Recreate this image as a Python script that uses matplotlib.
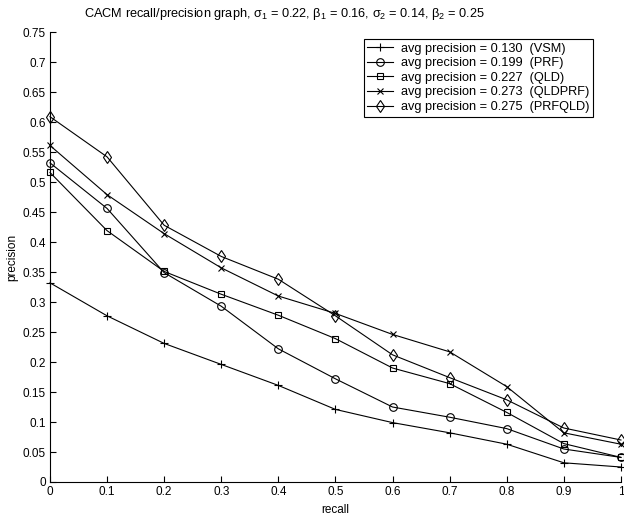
import matplotlib
matplotlib.use("Agg")
import matplotlib.pyplot as plt
from matplotlib.ticker import FuncFormatter

plt.rcParams['font.family'] = ['Liberation Sans', 'DejaVu Sans']
plt.rcParams['mathtext.fontset'] = 'custom'
plt.rcParams['mathtext.rm'] = 'Liberation Sans'
plt.rcParams['mathtext.it'] = 'Liberation Sans'

# recall levels
recall = [0.0, 0.1, 0.2, 0.3, 0.4, 0.5, 0.6, 0.7, 0.8, 0.9, 1.0]

# precision values per method
vsm = [0.332, 0.277, 0.231, 0.196, 0.161, 0.121, 0.099, 0.082, 0.063, 0.032, 0.025]
prf = [0.532, 0.456, 0.349, 0.293, 0.222, 0.172, 0.125, 0.108, 0.089, 0.055, 0.041]
qld = [0.516, 0.419, 0.351, 0.313, 0.278, 0.239, 0.190, 0.164, 0.116, 0.064, 0.041]
qldprf = [0.561, 0.479, 0.414, 0.357, 0.310, 0.281, 0.246, 0.217, 0.159, 0.082, 0.063]
prfqld = [0.609, 0.542, 0.428, 0.376, 0.338, 0.277, 0.212, 0.174, 0.137, 0.090, 0.070]

labels = ["avg precision = 0.130  (VSM)",
          "avg precision = 0.199  (PRF)",
          "avg precision = 0.227  (QLD)",
          "avg precision = 0.273  (QLDPRF)",
          "avg precision = 0.275  (PRFQLD)"]
series = [vsm, prf, qld, qldprf, prfqld]
markers = ['+', 'o', 's', 'x', 'd']
sizes = [5.5, 5.5, 5, 4.5, 6]

fig = plt.figure(figsize=(6.24, 5.18), dpi=100)
ax = fig.add_axes([0.0801, 0.0695, 0.915, 0.8685])

for ys, m, ms, lab in zip(series, markers, sizes, labels):
    ax.plot(recall, ys, color='black', linewidth=0.8, marker=m, markersize=ms,
            markerfacecolor='none', markeredgecolor='black', markeredgewidth=0.8,
            label=lab, clip_on=False)

ax.set_xlim(0, 1)
ax.set_ylim(0, 0.75)
ax.set_xticks([i / 10 for i in range(11)])
ax.set_yticks([i * 0.05 for i in range(16)])
ax.xaxis.set_major_formatter(FuncFormatter(lambda v, p: f"{v:g}"))
ax.yaxis.set_major_formatter(FuncFormatter(lambda v, p: f"{round(v, 2):g}"))
ax.tick_params(direction='in', length=4, width=0.8, labelsize=8.5, pad=3)
for s in ['top', 'right']:
    ax.spines[s].set_visible(False)
for s in ['left', 'bottom']:
    ax.spines[s].set_linewidth(0.8)

ax.set_xlabel("recall", fontsize=8.5, labelpad=4)
ax.set_ylabel("precision", fontsize=8.5, labelpad=3)
fig.text(285 / 624, 1 - 14 / 518,
         r"CACM recall/precision graph, $\sigma_1$ = 0.22, $\beta_1$ = 0.16, "
         r"$\sigma_2$ = 0.14, $\beta_2$ = 0.25", fontsize=9.2, ha='center', va='center')

leg = ax.legend(loc='upper right', bbox_to_anchor=(593 / 624, 1 - 39 / 518),
                bbox_transform=fig.transFigure, fontsize=9.2,
                fancybox=False, edgecolor='black', framealpha=1,
                handlelength=2.0, handletextpad=0.6, borderpad=0.3,
                labelspacing=0.2, borderaxespad=0)
leg.get_frame().set_linewidth(0.8)

fig.savefig("out.png", dpi=100)
